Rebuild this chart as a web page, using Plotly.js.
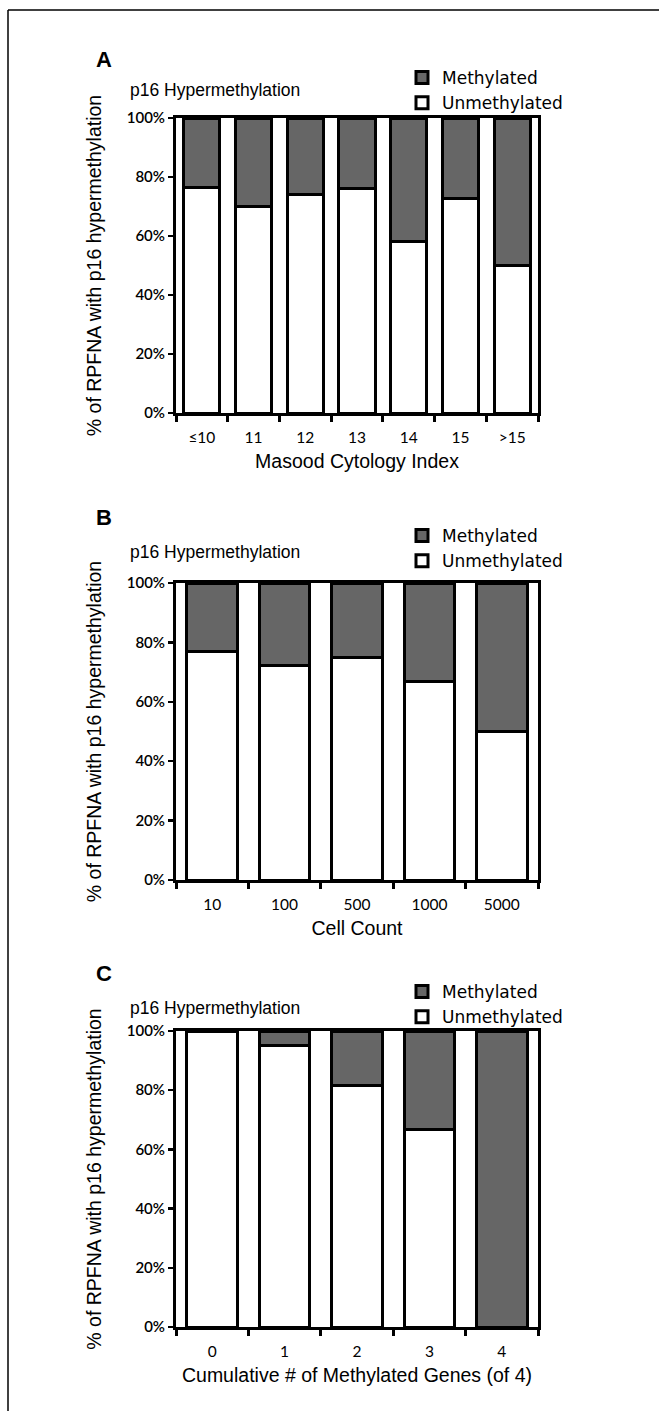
<!DOCTYPE html>
<html>
<head>
<meta charset="utf-8">
<script src="https://cdn.plot.ly/plotly-3.0.1.min.js"></script>
<style>html,body{margin:0;padding:0;background:#fff;} #chart{width:659px;height:1411px;}</style>
</head>
<body>
<div id="chart"></div>
<script>
// ---- data ----
const seriesNames = ['Unmethylated', 'Methylated'];
const panelLetters = ['A', 'B', 'C'];
const panelTitle = 'p16 Hypermethylation';
const yAxisTitle = '% of RPFNA with p16 hypermethylation';
const xAxisTitles = ['Masood Cytology Index', 'Cell Count', 'Cumulative # of Methylated Genes (of 4)'];

const catsA = ['≤10', '11', '12', '13', '14', '15', '>15'];
const unmethA = [76.5, 70, 74, 76, 58.3, 72.7, 50];
const methA = [23.5, 30, 26, 24, 41.7, 27.3, 50];

const catsB = ['10', '100', '500', '1000', '5000'];
const unmethB = [76.9, 72.2, 75, 66.7, 50];
const methB = [23.1, 27.8, 25, 33.3, 50];

const catsC = ['0', '1', '2', '3', '4'];
const unmethC = [100, 95.2, 81.5, 66.7, 0];
const methC = [0, 4.8, 18.5, 33.3, 100];

const yTickVals = [0, 20, 40, 60, 80, 100];
const yTickText = ['0%', '20%', '40%', '60%', '80%', '100%'];

// ---- layout helpers (pixels -> paper) ----
const W = 659, H = 1411;
const px = v => v / W;
const py = v => 1 - v / H;

const plotX = [176, 538];
const plotsY = [[118, 413], [583, 880], [1031, 1327]];
const letterY = [60, 517, 973];
const titleY = [90, 552, 1008];
const legendTop = [60, 518, 974];

const cats = [catsA, catsB, catsC];
const unmeth = [unmethA, unmethB, unmethC];
const meth = [methA, methB, methC];

const GRAY = '#666666';
const xTickFont = {family: 'Lato, "Open Sans", sans-serif', size: 15.5, color: '#000'};
const yTickFont = {family: 'Lato, "Open Sans", sans-serif', size: 15, color: '#000', weight: 600};
const titleFont = {family: '"Liberation Sans", Arial, sans-serif', size: 19.5, color: '#000'};

const data = [];
const layout = {
  width: W, height: H,
  margin: {l: 0, r: 0, t: 0, b: 0},
  paper_bgcolor: '#fff', plot_bgcolor: '#fff',
  barmode: 'stack',
  bargap: 0.3,
  showlegend: true,
  annotations: [],
  shapes: [
    {type: 'line', xref: 'paper', yref: 'paper', x0: px(8), x1: 1.01, y0: py(10), y1: py(10), line: {color: '#000', width: 1.5}},
    {type: 'line', xref: 'paper', yref: 'paper', x0: px(8), x1: px(8), y0: py(10), y1: -0.01, line: {color: '#000', width: 1.5}}
  ]
};

for (let i = 0; i < 3; i++) {
  const n = i === 0 ? '' : String(i + 1);
  const xa = 'x' + n, ya = 'y' + n;
  const legendName = 'legend' + n;
  data.push({
    type: 'bar', x: cats[i], y: unmeth[i], name: seriesNames[0],
    xaxis: xa, yaxis: ya, legend: legendName,
    marker: {color: '#ffffff', line: {color: '#000', width: 3}}
  });
  data.push({
    type: 'bar', x: cats[i], y: meth[i], name: seriesNames[1],
    xaxis: xa, yaxis: ya, legend: legendName,
    marker: {color: GRAY, line: {color: '#000', width: 3}}
  });

  const [top, bot] = plotsY[i];
  layout['xaxis' + n] = {
    domain: [px(plotX[0]), px(plotX[1])],
    anchor: ya,
    type: 'category',
    showline: true, linecolor: '#000', linewidth: 3, mirror: true,
    ticks: 'outside', tickson: 'boundaries', ticklen: 6, tickwidth: 3, tickcolor: '#000',
    ticklabelstandoff: 8,
    showgrid: false, zeroline: false,
    tickfont: xTickFont,
    title: {text: xAxisTitles[i], font: titleFont, standoff: 10},
    fixedrange: true
  };
  layout['yaxis' + n] = {
    domain: [py(bot), py(top)],
    anchor: xa,
    range: [0, 100],
    showline: true, linecolor: '#000', linewidth: 3, mirror: true,
    ticks: 'outside', ticklen: 5, tickwidth: 2.5, tickcolor: '#000',
    tickvals: yTickVals, ticktext: yTickText,
    showgrid: false, zeroline: false,
    tickfont: yTickFont,
    title: {text: yAxisTitle, font: titleFont, standoff: 20},
    fixedrange: true
  };
  layout[legendName] = {
    x: px(402), y: py(legendTop[i]), xanchor: 'left', yanchor: 'top',
    xref: 'paper', yref: 'paper',
    bgcolor: 'rgba(0,0,0,0)', borderwidth: 0,
    traceorder: 'reversed',
    font: {family: '"DejaVu Sans", Verdana, sans-serif', size: 17, color: '#000'},
    tracegroupgap: 0, itemwidth: 30
  };
  layout.annotations.push({
    text: '<b>' + panelLetters[i] + '</b>', xref: 'paper', yref: 'paper',
    x: px(94), y: py(letterY[i]), xanchor: 'left', yanchor: 'middle', showarrow: false,
    font: {family: '"Liberation Sans", Arial, sans-serif', size: 22, color: '#000'}
  });
  layout.annotations.push({
    text: panelTitle, xref: 'paper', yref: 'paper',
    x: px(128), y: py(titleY[i]), xanchor: 'left', yanchor: 'middle', showarrow: false,
    font: {family: '"Liberation Sans", Arial, sans-serif', size: 17.5, color: '#000'}
  });
}

Plotly.newPlot('chart', data, layout, {staticPlot: true, displayModeBar: false});
</script>
</body>
</html>
